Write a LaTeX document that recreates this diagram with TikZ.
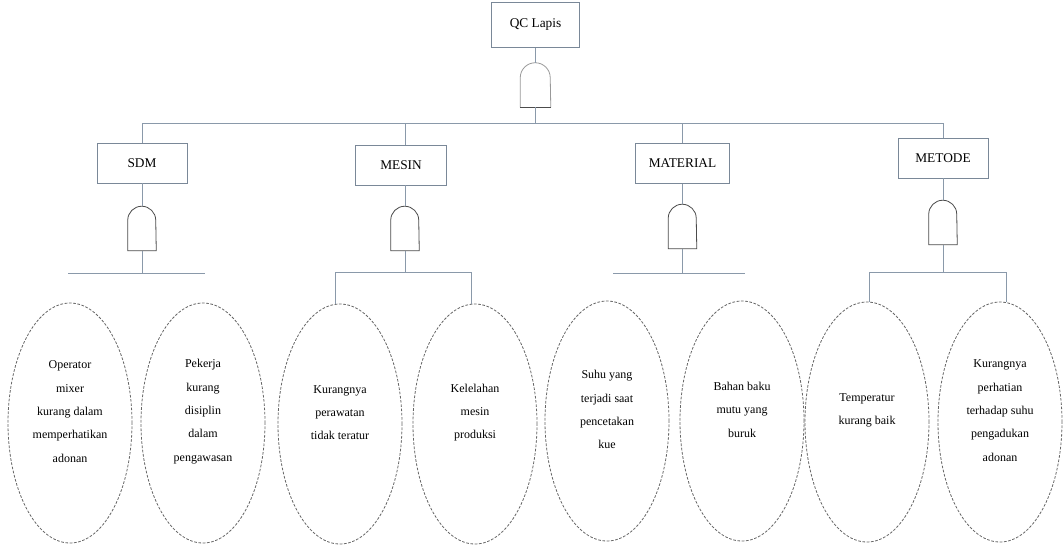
\documentclass[tikz,border=0pt]{standalone}
\usepackage{fontspec}
\setmainfont{Liberation Serif}
\usetikzlibrary{shapes.geometric}
\definecolor{lineblue}{HTML}{8A99AA}
\definecolor{boxline}{HTML}{7A8898}
\tikzset{
  catbox/.style={draw=boxline, line width=0.6pt, minimum height=30pt, inner sep=1pt, font=\fontsize{10}{12}\selectfont},
  gatebox/.style={minimum width=21pt, minimum height=33pt, inner sep=0pt},
  gateline/.style={draw=black!70, line width=0.6pt},
  conn/.style={draw=lineblue, line width=0.6pt},
  cause/.style={ellipse, draw=black!60, dashed, dash pattern=on 2pt off 1.2pt, line width=0.6pt,
     minimum width=93pt, minimum height=180pt, inner sep=0pt},
  causetext/.style={align=center, font=\fontsize{9}{17.5}\selectfont, yshift=8.5pt}
}
\newcommand\gateshape[1]{\draw[gateline] (#1.south west) -- ([yshift=-10.5pt]#1.north west) arc(180:0:10.5pt) -- (#1.south east) -- cycle;}
\begin{document}
\begin{tikzpicture}[x=0.75pt,y=-0.75pt]
\useasboundingbox[fill=white] (0,0) rectangle (1064,547);
% top
\node[catbox, minimum width=66.5pt, minimum height=34pt] (top) at (535.5,25) {QC Lapis};
\node[gatebox, minimum width=22.5pt] (g0) at (535.5,85) {};
\draw[gateline, draw=black!40] (g0.south west) -- ([yshift=-11.25pt]g0.north west) arc(180:0:11.25pt) -- (g0.south east);
\draw[gateline] (g0.south west) -- (g0.south east);
\draw[conn] (top.south) -- (g0.north);
\coordinate (mainL) at (142,123);
\coordinate (mainR) at (943,123);
\coordinate (mainC) at (535.5,123);
\draw[conn] (g0.south) -- (mainC);
\draw[conn] (mainL) -- (mainR);
% category boxes
\node[catbox, minimum width=67.5pt] (sdm) at (142,163) {SDM};
\node[catbox, minimum width=68pt] (mesin) at (401,165) {MESIN};
\node[catbox, minimum width=71pt] (material) at (682.5,163.5) {MATERIAL};
\node[catbox, minimum width=67.5pt] (metode) at (943,158) {METODE};
\draw[conn] (mainL) -- (sdm.north);
\draw[conn] (405,123) -- (405,145);
\draw[conn] (682.5,123) -- (material.north);
\draw[conn] (mainR) -- (metode.north);
% gates
\node[gatebox] (g1) at (142,228.5) {};
\node[gatebox] (g2) at (405,228.5) {};
\node[gatebox] (g3) at (682.5,226.5) {};
\node[gatebox] (g4) at (943,222.5) {};
\gateshape{g1}\gateshape{g2}\gateshape{g3}\gateshape{g4}
\draw[conn] (sdm.south) -- (g1.north);
\draw[conn] (mesin.south -| g2.north) -- (g2.north);
\draw[conn] (material.south) -- (g3.north);
\draw[conn] (metode.south) -- (g4.north);
% cause ellipses
\node[cause] (e1) at (70,423) {};
\node[cause] (e2) at (203,423) {};
\node[cause] (e3) at (340,424) {};
\node[cause] (e4) at (475,424) {};
\node[cause] (e5) at (607,421) {};
\node[cause] (e6) at (742,421) {};
\node[cause] (e7) at (867,422) {};
\node[cause] (e8) at (1000,422) {};
\node[causetext] (t1) at (e1) {Operator\\mixer\\kurang dalam\\memperhatikan\\adonan};
\node[causetext] (t2) at (e2) {Pekerja\\kurang\\disiplin\\dalam\\pengawasan};
\node[causetext] (t3) at (e3) {Kurangnya\\perawatan\\tidak teratur};
\node[causetext] (t4) at (e4) {Kelelahan\\mesin\\produksi};
\node[causetext] (t5) at (e5) {Suhu yang\\terjadi saat\\pencetakan\\kue};
\node[causetext] (t6) at (e6) {Bahan baku\\mutu yang\\buruk};
\node[causetext] (t7) at (e7) {Temperatur\\kurang baik};
\node[causetext] (t8) at (e8) {Kurangnya\\perhatian\\terhadap suhu\\pengadukan\\adonan};
% branch lines
\coordinate (b1) at (142,273);
\draw[conn] (g1.south) -- (b1);
\draw[conn] (68,273) -- (205,273);
\draw[conn] (g2.south) -- (405,272);
\draw[conn] (e3.north -| 335,0) -- (335,272) -- (471,272) -- (e4.north -| 471,0);
\coordinate (b3) at (682.5,273);
\draw[conn] (g3.south) -- (b3);
\draw[conn] (613,273) -- (745,273);
\draw[conn] (g4.south) -- (943,272);
\draw[conn] (e7.north -| 869,0) -- (869,272) -- (1006,272) -- (e8.north -| 1006,0);
\end{tikzpicture}
\end{document}
